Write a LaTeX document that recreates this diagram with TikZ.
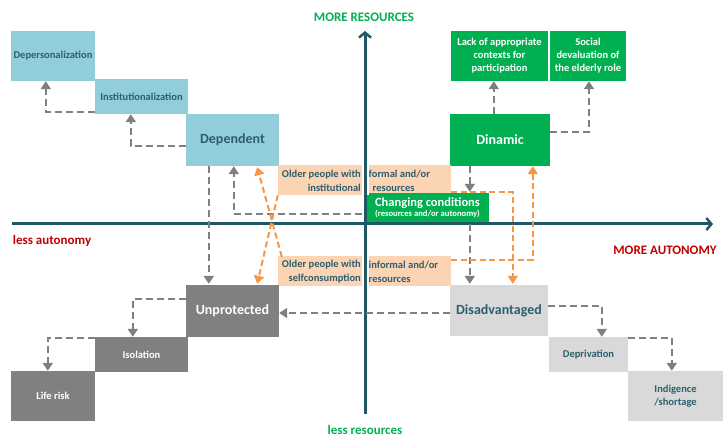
\documentclass[tikz,border=0pt]{standalone}
\usepackage{fontspec}
\setmainfont{Carlito}
\usetikzlibrary{arrows.meta,calc}
\definecolor{lblue}{HTML}{92CDDC}
\definecolor{ggreen}{HTML}{00B050}
\definecolor{dgray}{HTML}{808080}
\definecolor{lgray}{HTML}{D9D9D9}
\definecolor{lorange}{HTML}{FBD4B4}
\definecolor{orangeln}{HTML}{F79646}
\definecolor{arrgray}{HTML}{7F7F7F}
\definecolor{teal}{HTML}{215868}
\definecolor{tealtext}{HTML}{2E5E6E}
\definecolor{dred}{HTML}{C00000}
\tikzset{
  box/.style={rectangle, inner sep=0pt, align=center, font=\bfseries\fontsize{10.5}{13}\selectfont},
  bluebox/.style={box, fill=lblue, text=tealtext},
  greenbox/.style={box, fill=ggreen, text=white},
  darkbox/.style={box, fill=dgray, text=white},
  lightbox/.style={box, fill=lgray, text=tealtext},
  orbox/.style={rectangle, inner sep=0pt, fill=lorange},
  bigtxt/.style={font=\bfseries\fontsize{14}{16}\selectfont},
  ortxt/.style={inner sep=0pt, text=tealtext, font=\bfseries\fontsize{10.5}{14}\selectfont},
  garr/.style={draw=arrgray, line width=2.2pt, dash pattern=on 7pt off 4pt, -{Triangle[length=8pt,width=10pt]}, arrgray},
  oarr/.style={draw=orangeln, line width=2pt, dash pattern=on 6pt off 3.5pt, -{Triangle[length=8pt,width=10pt]}, orangeln},
  axis/.style={draw=teal, line width=3pt, -{Straight Barb[length=5pt,width=12pt,line width=2.5pt]}},
  axlabel/.style={inner sep=0pt, font=\bfseries\fontsize{13}{15}\selectfont}
}
\begin{document}
\begin{tikzpicture}[x=1pt,y=-1pt]
\fill[white] (0,0) rectangle (723,438);
\useasboundingbox (0,0) rectangle (723,438);

% boxes
\node[bluebox, minimum width=84pt, minimum height=50pt] (deper) at (53,56) {Depersonalization};
\node[bluebox, minimum width=93pt, minimum height=35pt] (inst) at (141.5,96.5) {Institutionalization};
\node[bluebox, bigtxt, minimum width=93pt, minimum height=52pt] (dep) at (232.5,140) {Dependent};

\node[greenbox, minimum width=97pt, minimum height=50pt] (lack) at (499.5,56) {Lack of appropriate\\contexts for\\participation};
\node[greenbox, minimum width=76pt, minimum height=50pt] (soc) at (588,56) {Social\\devaluation of\\the elderly role};
\node[greenbox, bigtxt, minimum width=100pt, minimum height=52pt] (din) at (500,140) {Dinamic};

\node[orbox, minimum width=173pt, minimum height=30pt] (orU) at (364.5,180) {};
\node[orbox, minimum width=173pt, minimum height=30pt] (orL) at (364.5,271) {};

\node[greenbox, minimum width=123pt, minimum height=30pt, font=\bfseries] (chg) at (427.5,208)
  {{\fontsize{12.5}{13}\selectfont Changing conditions}\\[-1.5pt]{\fontsize{8.6}{9}\selectfont (resources and/or autonomy)}};

\node[darkbox, bigtxt, minimum width=93pt, minimum height=52pt] (unp) at (232.5,311) {Unprotected};
\node[darkbox, minimum width=93pt, minimum height=35pt] (iso) at (141.5,354.5) {Isolation};
\node[darkbox, minimum width=84pt, minimum height=50pt] (life) at (53,396) {Life risk};

\node[lightbox, bigtxt, minimum width=98pt, minimum height=51pt] (dis) at (499,310.5) {Disadvantaged};
\node[lightbox, minimum width=79pt, minimum height=35pt] (depr) at (588.5,354.5) {Deprivation};
\node[lightbox, minimum width=95pt, minimum height=50pt] (indi) at (675.5,396) {Indigence\\/shortage};

% orange box texts
\node[ortxt, align=right, anchor=east] (orUl) at (361,181) {Older people with\\institutional};
\node[ortxt, align=left, anchor=west] (orUr) at (368.5,181) {formal and/or\\\hspace{4pt}resources};
\node[ortxt, align=right, anchor=east] (orLl) at (361,272) {Older people with\\selfconsumption};
\node[ortxt, align=left, anchor=west] (orLr) at (368.5,272) {informal and/or\\resources};

% axes
\coordinate (vb) at (365,414);
\coordinate (vt) at (365,31);
\coordinate (hl) at (12,224);
\coordinate (hr) at (713,224);
\draw[white, line width=7pt] (365,165) -- (365,195);
\draw[white, line width=7pt] (365,256) -- (365,286);
\draw[axis] (vb) -- (vt);
\draw[axis] (hl) -- (hr);

\node[axlabel, text=ggreen] (mres) at (364,17) {MORE RESOURCES};
\node[axlabel, text=ggreen] (lres) at (365,430) {less resources};
\node[axlabel, text=dred] (laut) at (52,241) {less autonomy};
\node[axlabel, text=dred] (maut) at (665,250) {MORE AUTONOMY};

% gray connectors
\draw[garr] ($(inst.south west)+(0,-2)$) -| ($(deper.south west)+(35,0)$);
\draw[garr] ($(dep.west)+(0,6)$) -| ($(inst.south west)+(36,0)$);
\draw[garr] ($(dep.south west)+(23,0)$) -- ($(unp.north west)+(23,-1)$);
\draw[garr] ($(chg.west)+(-4,6)$) -| ($(dep.south west)+(48,0)$);
\draw[garr] ($(din.north west)+(44,0)$) -- ($(lack.south west)+(43,0)$);
\draw[garr] ($(din.east)+(0,-8)$) -| ($(soc.south)+(1,0)$);
\draw[garr] ($(din.south west)+(20,0)$) -- ($(chg.north west)+(104,-1)$);
\draw[garr] ($(chg.south west)+(104,1)$) -- ($(dis.north west)+(20,-1)$);
\draw[garr] ($(dis.west)+(0,2.5)$) -- ($(unp.east)+(0,2)$);
\draw[garr] ($(dis.east)+(0,-4.5)$) -| ($(depr.north west)+(53,0)$);
\draw[garr] ($(depr.north east)+(0,1)$) -| ($(indi.north west)+(44,0)$);
\draw[garr] ($(unp.west)+(0,-12)$) -| ($(iso.north west)+(38,0)$);
\draw[garr] ($(iso.north west)+(0,1)$) -| ($(life.north west)+(37,0)$);

% orange connectors
\draw[oarr] ($(orU.south east)+(0,-3)$) -| ($(dis.north west)+(63,-1)$);
\draw[oarr] ($(orL.north east)+(0,4)$) -| ($(din.south west)+(83,0)$);
\draw[oarr] ($(orL.north west)+(4,1)$) -- ($(dep.south east)+(-22,1)$);
\draw[oarr] ($(orU.south west)+(0,0)$) -- ($(unp.north east)+(-22,-1)$);
\end{tikzpicture}
\end{document}
